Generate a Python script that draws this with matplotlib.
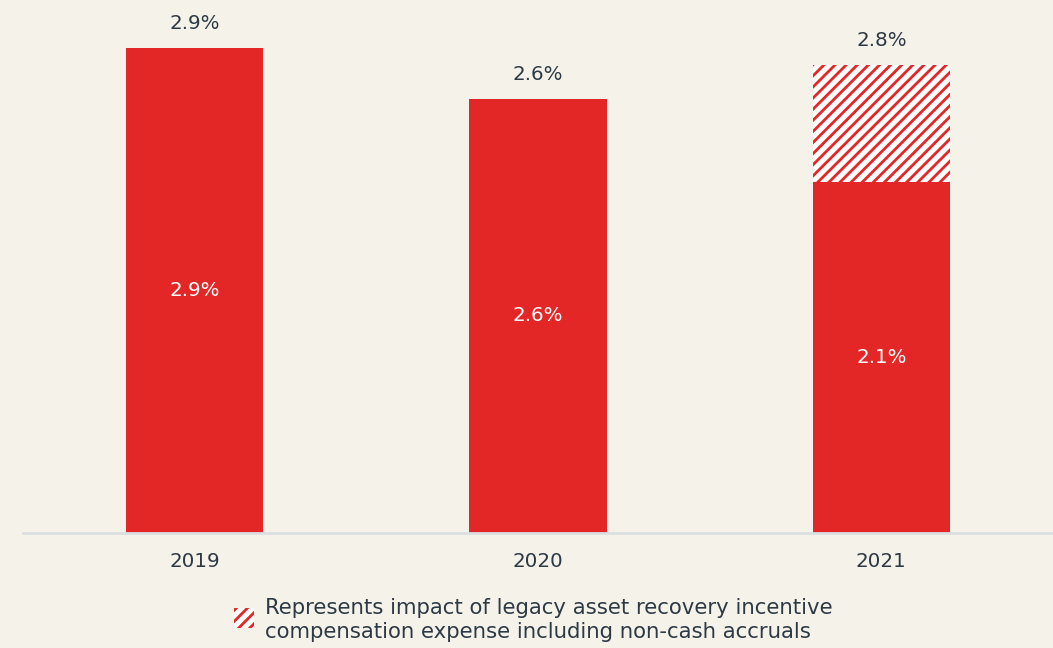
import matplotlib
matplotlib.use("Agg")
import matplotlib.pyplot as plt
from matplotlib.patches import Rectangle

years = ["2019", "2020", "2021"]
base_values = [2.9, 2.6, 2.1]
legacy_values = [0.0, 0.0, 0.7]
total_labels = ["2.9%", "2.6%", "2.8%"]
base_labels = ["2.9%", "2.6%", "2.1%"]
legend_text = "Represents impact of legacy asset recovery incentive\ncompensation expense including non-cash accruals"

RED = "#E32726"
BG = "#F5F2EA"
TXT = "#2D3A45"
AXIS = "#DCDFE2"

plt.rcParams['font.family'] = ['DejaVu Sans']
plt.rcParams['hatch.linewidth'] = 2.0
plt.rcParams['hatch.color'] = RED

fig = plt.figure(figsize=(10.53, 6.48), dpi=100, facecolor=BG)
ax = fig.add_axes([0.022, 0.1775, 0.978, 0.8225])
ax.set_facecolor(BG)

x = list(range(len(years)))
ax.bar(x, base_values, width=0.4, color=RED, linewidth=0)
tops = [b + l for b, l in zip(base_values, legacy_values)]
for i, (b, l) in enumerate(zip(base_values, legacy_values)):
    if l > 0:
        ax.bar(i, l, bottom=b, width=0.4, facecolor="white", edgecolor=RED,
               hatch="///", linewidth=0)

FS = 14.3
for i in x:
    ax.text(i, tops[i] + 0.09, total_labels[i], ha="center", va="bottom",
            fontsize=FS, color=TXT)
    ax.text(i, base_values[i] / 2, base_labels[i], ha="center", va="center",
            fontsize=FS, color="white")

ax.set_xlim(-0.5, 2.5)
ax.set_ylim(0, 3.19)
ax.set_yticks([])
ax.set_xticks(x)
ax.set_xticklabels(years, fontsize=FS, color=TXT)
ax.tick_params(axis="x", length=0, pad=14)
for s in ["top", "right", "left"]:
    ax.spines[s].set_visible(False)
ax.spines["bottom"].set_color(AXIS)
ax.spines["bottom"].set_linewidth(2)

# legend
fig.patches.append(Rectangle((234 / 1053, 1 - 628 / 648), 20 / 1053, 20 / 648,
                             transform=fig.transFigure, facecolor="white",
                             edgecolor=RED, hatch="///", linewidth=0))
fig.text(265 / 1053, 1 - 620 / 648, legend_text, ha="left", va="center",
         fontsize=15.3, color=TXT, linespacing=1.2)

fig.savefig("out.png", dpi=100, facecolor=BG)
